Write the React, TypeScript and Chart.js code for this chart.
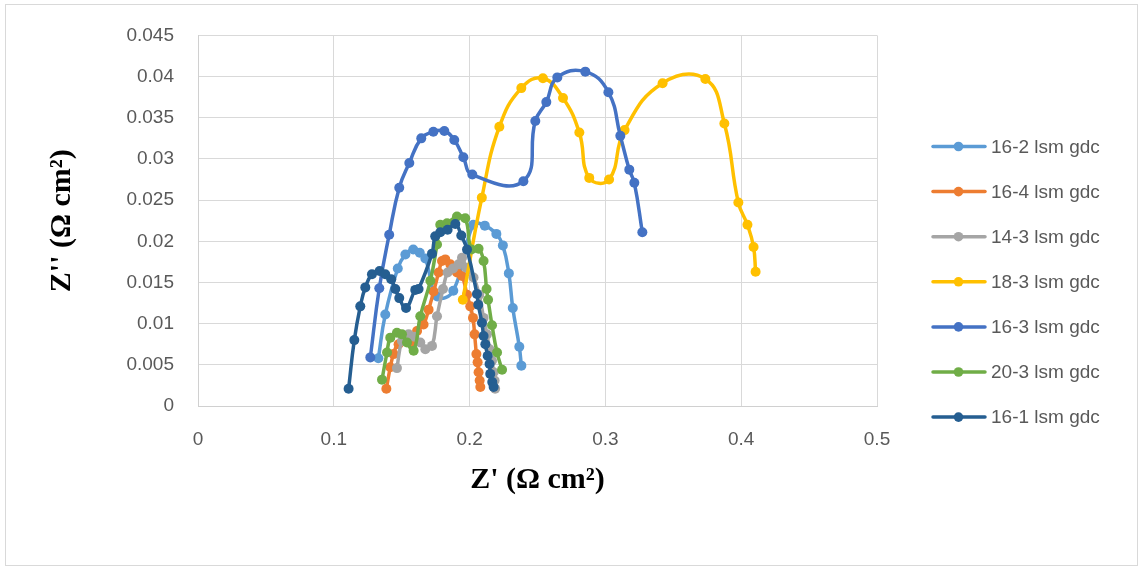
import React, { useEffect, useRef } from 'react';
import { Chart, registerables } from 'chart.js';

Chart.register(...registerables);

const SERIES_NAMES = ['16-2 lsm gdc', '16-4 lsm gdc', '14-3 lsm gdc', '18-3 lsm gdc', '16-3 lsm gdc', '20-3 lsm gdc', '16-1 lsm gdc'];
const SERIES_COLORS = ['#5B9BD5', '#ED7D31', '#A5A5A5', '#FFC000', '#4472C4', '#70AD47', '#255E91'];

const X_16_2 = [0.1328, 0.1379, 0.1471, 0.1527, 0.1585, 0.1633, 0.1674, 0.1762, 0.188, 0.2027, 0.2112, 0.2197, 0.2245, 0.2289, 0.2318, 0.2366, 0.2381];
const Y_16_2 = [0.0058, 0.0111, 0.0167, 0.0184, 0.019, 0.0186, 0.0179, 0.0133, 0.014, 0.022, 0.0219, 0.0209, 0.0195, 0.0161, 0.0119, 0.0072, 0.0049];

const X_16_4 = [0.1387, 0.1416, 0.144, 0.1477, 0.1576, 0.1613, 0.1661, 0.1698, 0.1735, 0.1772, 0.1797, 0.1821, 0.1858, 0.1907, 0.1944, 0.1981, 0.2005, 0.2025, 0.2037, 0.205, 0.2059, 0.2066, 0.2074, 0.2079];
const Y_16_4 = [0.0021, 0.0047, 0.0063, 0.0075, 0.0077, 0.0091, 0.0099, 0.0117, 0.0139, 0.0162, 0.0176, 0.0178, 0.0172, 0.0162, 0.0158, 0.0135, 0.0121, 0.0107, 0.0087, 0.0063, 0.0053, 0.0041, 0.0031, 0.0023];

const X_14_3 = [0.1465, 0.1502, 0.1551, 0.1593, 0.1637, 0.1674, 0.1723, 0.176, 0.1804, 0.1838, 0.1878, 0.1919, 0.1944, 0.1976, 0.2029, 0.2071, 0.2103, 0.2128, 0.2147, 0.2165, 0.2177, 0.2184, 0.2188];
const Y_14_3 = [0.0046, 0.0079, 0.0087, 0.0084, 0.0077, 0.0069, 0.0073, 0.0109, 0.0142, 0.0162, 0.0167, 0.0172, 0.018, 0.0168, 0.0156, 0.0135, 0.0107, 0.0087, 0.0069, 0.0055, 0.0041, 0.0031, 0.0021];

const X_18_3 = [0.195, 0.209, 0.2219, 0.2381, 0.254, 0.2688, 0.2808, 0.2881, 0.3027, 0.3141, 0.3421, 0.3736, 0.3876, 0.3979, 0.4046, 0.4091, 0.4106];
const Y_18_3 = [0.0129, 0.0253, 0.0339, 0.0386, 0.0398, 0.0374, 0.0332, 0.0277, 0.0275, 0.0335, 0.0392, 0.0397, 0.0343, 0.0247, 0.022, 0.0193, 0.0163];

const X_16_3 = [0.1269, 0.1335, 0.1408, 0.1482, 0.1556, 0.1644, 0.1733, 0.1814, 0.1887, 0.1954, 0.202, 0.2396, 0.2484, 0.2565, 0.2646, 0.2852, 0.3022, 0.311, 0.3176, 0.3213, 0.3272];
const Y_16_3 = [0.0059, 0.0143, 0.0208, 0.0265, 0.0295, 0.0325, 0.0333, 0.0334, 0.0323, 0.0302, 0.0281, 0.0273, 0.0346, 0.0369, 0.0399, 0.0406, 0.0381, 0.0328, 0.0287, 0.0271, 0.0211];

const X_20_3 = [0.1355, 0.1392, 0.1416, 0.1465, 0.1502, 0.1539, 0.1588, 0.1637, 0.1711, 0.176, 0.1784, 0.1834, 0.1907, 0.1968, 0.2013, 0.2066, 0.2103, 0.2125, 0.2136, 0.2165, 0.2202, 0.2239];
const Y_20_3 = [0.0032, 0.0065, 0.0083, 0.0089, 0.0087, 0.0077, 0.0067, 0.0109, 0.0152, 0.0196, 0.022, 0.0222, 0.023, 0.0228, 0.019, 0.0191, 0.0176, 0.0142, 0.0129, 0.0098, 0.0065, 0.0044];

const X_16_1 = [0.1109, 0.1151, 0.1195, 0.1232, 0.1281, 0.1337, 0.1379, 0.1423, 0.1453, 0.1482, 0.1532, 0.16, 0.1624, 0.1723, 0.1747, 0.1784, 0.1838, 0.1895, 0.1939, 0.1981, 0.2054, 0.2064, 0.2091, 0.2103, 0.2116, 0.2133, 0.2147, 0.2152, 0.2167, 0.2177];
const Y_16_1 = [0.0021, 0.008, 0.0121, 0.0144, 0.016, 0.0164, 0.016, 0.0154, 0.0142, 0.0131, 0.0119, 0.0141, 0.0142, 0.0185, 0.0206, 0.0211, 0.0214, 0.0221, 0.0207, 0.019, 0.0136, 0.0123, 0.0101, 0.0085, 0.0075, 0.0061, 0.0051, 0.0039, 0.0029, 0.0023];

const SERIES_X = [X_16_2, X_16_4, X_14_3, X_18_3, X_16_3, X_20_3, X_16_1];
const SERIES_Y = [Y_16_2, Y_16_4, Y_14_3, Y_18_3, Y_16_3, Y_20_3, Y_16_1];

const X_MIN = 0, X_MAX = 0.5, X_STEP = 0.1;
const Y_MIN = 0, Y_MAX = 0.045, Y_STEP = 0.005;
const X_TITLE = "Z' (Ω cm²)";
const Y_TITLE = "Z'' (Ω cm²)";

const TICK_FONT = { family: '"Liberation Sans", Arial, sans-serif', size: 19 };
const TITLE_FONT = { family: '"Liberation Serif", "Times New Roman", serif', size: 30, weight: 'bold' as const };

const frame = {
  id: 'frame',
  beforeDraw(chart: any) {
    const ctx = chart.ctx;
    ctx.save();
    ctx.fillStyle = '#ffffff';
    ctx.fillRect(0, 0, chart.width, chart.height);
    ctx.strokeStyle = '#D9D9D9';
    ctx.lineWidth = 1;
    ctx.strokeRect(5.5, 4.5, 1132, 561);
    ctx.restore();
  },
};

const legend = {
  id: 'sideLegend',
  afterDraw(chart: any) {
    const ctx = chart.ctx;
    ctx.save();
    chart.data.datasets.forEach((ds: any, i: number) => {
      const y = 146.5 + i * 45.1;
      ctx.strokeStyle = ds.borderColor;
      ctx.lineWidth = 3.5;
      ctx.lineCap = 'round';
      ctx.beginPath();
      ctx.moveTo(933, y);
      ctx.lineTo(985, y);
      ctx.stroke();
      ctx.fillStyle = ds.borderColor;
      ctx.beginPath();
      ctx.arc(958.5, y, 4.8, 0, Math.PI * 2);
      ctx.fill();
      ctx.fillStyle = '#595959';
      ctx.font = `${TICK_FONT.size}px ${TICK_FONT.family}`;
      ctx.textBaseline = 'middle';
      ctx.textAlign = 'left';
      ctx.fillText(ds.label, 991, y + 1);
    });
    ctx.restore();
  },
};

const fmt = (v: any) => String(+Number(v).toFixed(4));

export default function App() {
  const ref = useRef<HTMLCanvasElement>(null);
  useEffect(() => {
    const canvas = ref.current!;
    const n = SERIES_NAMES.length;
    const datasets = SERIES_NAMES.map((name, i) => ({
      label: name,
      data: SERIES_X[i].map((x, j) => ({ x, y: SERIES_Y[i][j] })),
      borderColor: SERIES_COLORS[i],
      backgroundColor: SERIES_COLORS[i],
      pointBackgroundColor: SERIES_COLORS[i],
      pointBorderColor: SERIES_COLORS[i],
      showLine: true,
      borderWidth: 3.5,
      pointRadius: 5,
      pointBorderWidth: 0,
      tension: 0.45,
      borderJoinStyle: 'round' as const,
      borderCapStyle: 'round' as const,
      order: n - i,
    }));
    const chart = new Chart(canvas, {
      type: 'scatter',
      data: { datasets },
      options: {
        animation: false,
        responsive: false,
        devicePixelRatio: 1,
        layout: { padding: { left: 0, top: 29, right: 267, bottom: 0 } },
        plugins: { legend: { display: false }, tooltip: { enabled: false } },
        scales: {
          x: {
            type: 'linear',
            min: X_MIN,
            max: X_MAX,
            afterFit: (s: any) => { s.height = 164; },
            grid: { color: '#D9D9D9', lineWidth: 1, drawTicks: false },
            border: { color: '#D0D0D0', width: 1 },
            ticks: { stepSize: X_STEP, color: '#595959', font: TICK_FONT, padding: 22, callback: fmt },
            title: { display: true, text: X_TITLE, color: '#000000', font: TITLE_FONT, padding: { top: 0, bottom: 72 } },
          },
          y: {
            type: 'linear',
            min: Y_MIN,
            max: Y_MAX,
            afterFit: (s: any) => { s.width = 198; },
            grid: { color: '#D9D9D9', lineWidth: 1, drawTicks: false },
            border: { color: '#D0D0D0', width: 1 },
            ticks: { stepSize: Y_STEP, color: '#595959', font: TICK_FONT, padding: 24, callback: fmt },
            title: { display: true, text: Y_TITLE, color: '#000000', font: TITLE_FONT, padding: { top: 44, bottom: 0 } },
          },
        },
      },
      plugins: [frame, legend],
    });
    return () => chart.destroy();
  }, []);
  return (
    <div style={{ position: 'absolute', left: 0, top: 0, width: 1144, height: 570, background: '#fff' }}>
      <canvas ref={ref} width={1144} height={570} style={{ width: 1144, height: 570, display: 'block' }} />
    </div>
  );
}
